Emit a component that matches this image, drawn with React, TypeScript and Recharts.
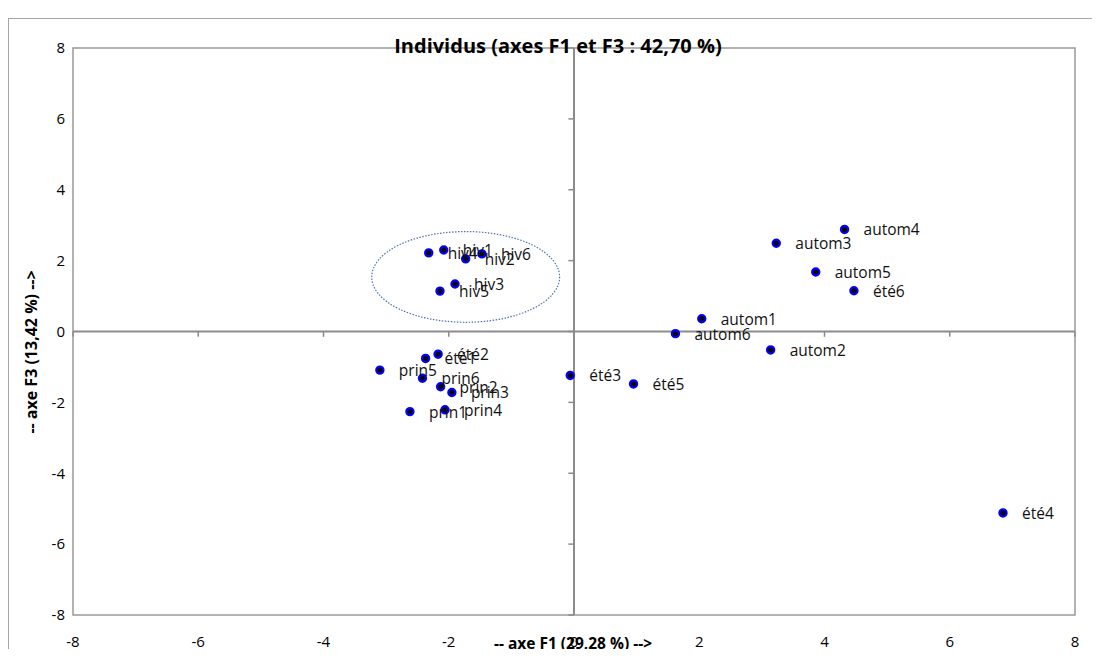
import {
  ReferenceArea,
  ReferenceLine,
  Scatter,
  ScatterChart,
  XAxis,
  YAxis,
} from "recharts";

// individuals and their coordinates on F1 / F3
const names = [
  "hiv1", "hiv2", "hiv3", "hiv4", "hiv5", "hiv6",
  "prin1", "prin2", "prin3", "prin4", "prin5", "prin6",
  "été1", "été2", "été3", "été4", "été5", "été6",
  "autom1", "autom2", "autom3", "autom4", "autom5", "autom6",
];
const f1 = [
  -2.08, -1.73, -1.9, -2.32, -2.14, -1.47,
  -2.62, -2.13, -1.95, -2.06, -3.1, -2.42,
  -2.37, -2.17, -0.06, 6.85, 0.95, 4.47,
  2.04, 3.14, 3.23, 4.32, 3.86, 1.62,
];
const f3 = [
  2.3, 2.05, 1.34, 2.22, 1.14, 2.19,
  -2.26, -1.56, -1.72, -2.21, -1.09, -1.32,
  -0.76, -0.64, -1.24, -5.12, -1.48, 1.15,
  0.36, -0.52, 2.49, 2.88, 1.68, -0.06,
];
const axisTicks = [-8, -6, -4, -2, 0, 2, 4, 6, 8];

// winter group highlighted by a dotted ellipse (bounding box in data units)
const winterBox = { x1: -3.23, x2: -0.23, y1: 0.26, y2: 2.82 };

const data = names.map((name, i) => ({ name, x: f1[i], y: f3[i] }));

const FONT = "'Open Sans', 'Noto Sans', sans-serif";
const GREY = "#8c8c8c";

function Marker(props: any) {
  const { cx, cy } = props;
  if (cx == null || cy == null) return null;
  return <circle cx={cx} cy={cy} r={3.6} fill="#000" stroke="#0000ff" strokeWidth={2.2} />;
}

function PointLabel(props: any) {
  const { cx, cy, payload } = props;
  if (cx == null || cy == null) return null;
  return (
    <text
      x={cx + 19}
      y={cy}
      dominantBaseline="central"
      fontFamily={FONT}
      fontSize={15.5}
      fill="#111"
    >
      {payload.name}
    </text>
  );
}

function EllipseShape(props: any) {
  const { x, y, width, height } = props;
  return (
    <ellipse
      cx={x + width / 2}
      cy={y + height / 2}
      rx={width / 2}
      ry={height / 2}
      fill="none"
      stroke="#4a74b0"
      strokeWidth={1.2}
      strokeDasharray="1.5 1.5"
    />
  );
}

export default function App() {
  return (
    <div
      style={{
        position: "relative",
        width: 1100,
        height: 657,
        margin: -8,
        overflow: "hidden",
        background: "#fff",
      }}
    >
      <div
        style={{
          position: "absolute",
          left: 8,
          top: 18,
          width: 1200,
          height: 800,
          border: "1px solid #a6a6a6",
        }}
      />
      <div style={{ position: "absolute", left: 0, top: 0 }}>
        <ScatterChart
          width={1100}
          height={657}
          margin={{ top: 48, right: 25, bottom: 0, left: 33 }}
        >
          <XAxis
            type="number"
            dataKey="x"
            domain={[-8, 8]}
            ticks={axisTicks}
            allowDataOverflow
            axisLine={false}
            tickLine={false}
            tickMargin={15}
            height={42}
            tick={{ fill: "#000", fontSize: 15, fontFamily: FONT }}
          />
          <YAxis
            type="number"
            dataKey="y"
            domain={[-8, 8]}
            ticks={axisTicks}
            allowDataOverflow
            axisLine={false}
            tickLine={false}
            tickMargin={2}
            width={40}
            tick={{ fill: "#000", fontSize: 15, fontFamily: FONT }}
          />
          <ReferenceArea
            x1={-8}
            x2={8}
            y1={-8}
            y2={8}
            fill="none"
            fillOpacity={0}
            stroke="#999"
            strokeWidth={1.5}
          />
          <ReferenceLine x={0} stroke={GREY} strokeWidth={2} />
          <ReferenceLine y={0} stroke={GREY} strokeWidth={2} />
          {axisTicks.map((t) => (
            <ReferenceLine
              key={`xt${t}`}
              segment={[
                { x: t, y: 0 },
                { x: t, y: -0.15 },
              ]}
              stroke={GREY}
              strokeWidth={1.5}
            />
          ))}
          {axisTicks.map((t) => (
            <ReferenceLine
              key={`yt${t}`}
              segment={[
                { x: -0.09, y: t },
                { x: 0, y: t },
              ]}
              stroke={GREY}
              strokeWidth={1.5}
            />
          ))}
          <ReferenceArea
            x1={winterBox.x1}
            x2={winterBox.x2}
            y1={winterBox.y1}
            y2={winterBox.y2}
            shape={<EllipseShape />}
          />
          <Scatter data={data} shape={<Marker />} isAnimationActive={false} />
          <Scatter data={data} shape={<PointLabel />} isAnimationActive={false} />
        </ScatterChart>
      </div>
      <div
        style={{
          position: "absolute",
          left: 0,
          width: 1116,
          top: 33,
          textAlign: "center",
          fontFamily: FONT,
          fontWeight: 700,
          fontSize: 20,
          lineHeight: "26px",
          color: "#000",
        }}
      >
        Individus (axes F1 et F3 : 42,70 %)
      </div>
      <div
        style={{
          position: "absolute",
          left: 0,
          width: 1146,
          top: 633,
          textAlign: "center",
          fontFamily: FONT,
          fontWeight: 700,
          fontSize: 15.5,
          lineHeight: "20px",
          color: "#000",
        }}
      >
        -- axe F1 (29,28 %) --&gt;
      </div>
      <div
        style={{
          position: "absolute",
          left: 31,
          top: 352,
          transform: "translate(-50%, -50%) rotate(-90deg)",
          whiteSpace: "nowrap",
          fontFamily: FONT,
          fontWeight: 700,
          fontSize: 16,
          lineHeight: "20px",
          color: "#000",
        }}
      >
        -- axe F3 (13,42 %) --&gt;
      </div>
    </div>
  );
}
